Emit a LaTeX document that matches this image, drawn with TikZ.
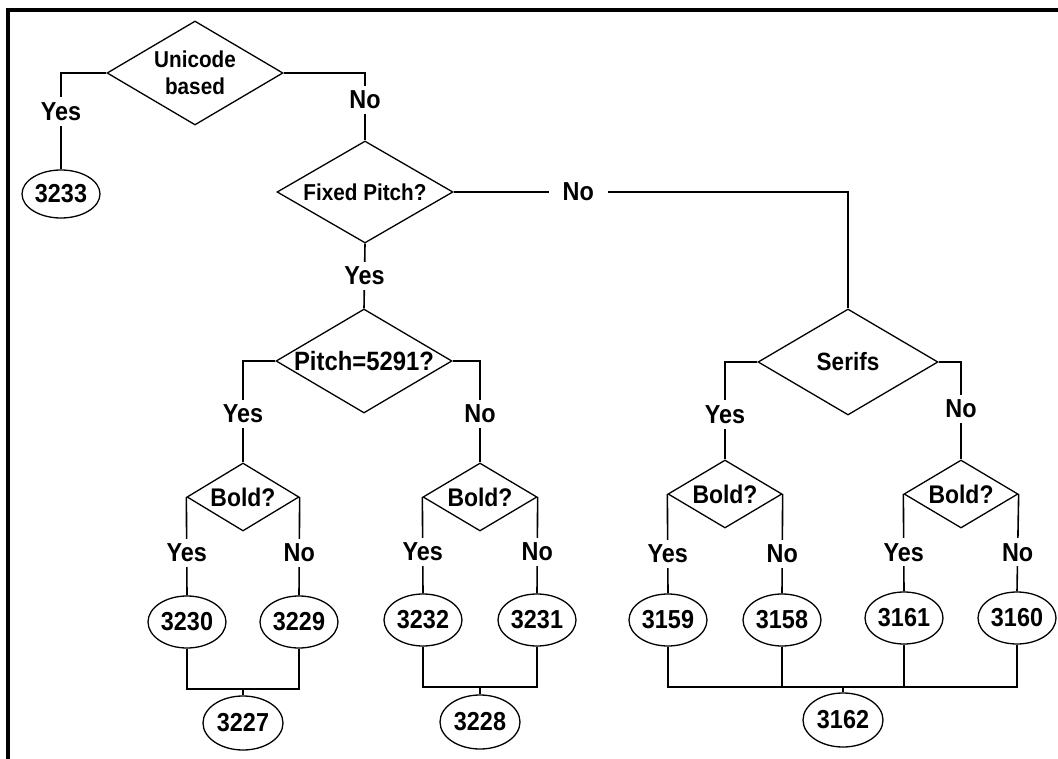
\documentclass[tikz,border=0pt]{standalone}
\usepackage{fontspec}
\setmainfont{Liberation Sans}[FakeStretch=0.9]
\usetikzlibrary{shapes.geometric}
\begin{document}
\begin{tikzpicture}[x=1pt,y=-1pt,
  every node/.style={font=\bfseries\fontsize{26}{28}\selectfont},
  dec/.style={diamond, draw, line width=1.3pt, inner sep=0pt},
  big/.style={dec, minimum width=176pt, minimum height=104pt},
  small/.style={dec, minimum width=114pt, minimum height=68pt},
  leaf/.style={ellipse, draw, line width=1.3pt, inner sep=0pt, minimum width=78pt, minimum height=52pt},
  conn/.style={line width=1.6pt},
  lbl/.style={fill=white, inner xsep=3pt, inner ysep=5pt},
  frame/.style={line width=4pt}
]
\useasboundingbox (0,0) rectangle (1058,759);
\draw[frame] (6,10) -- (1058,10);
\draw[frame] (8,8) -- (8,759);

% decisions
\node[big] (u) at (195,73) {};
\node[align=center, font=\bfseries\fontsize{23}{27}\selectfont] (ut) at (u) {Unicode\\based};
\node[big, minimum height=102pt] (f) at (365,192) {};
\node[font=\bfseries\fontsize{23}{26}\selectfont] (ft) at (f) {Fixed Pitch?};
\node[big] (p) at (364,361) {};
\node[font=\bfseries\fontsize{26.5}{28}\selectfont] (pt) at (p) {Pitch=5291?};
\node[big, minimum width=180pt, minimum height=106pt] (s) at (848,362) {};
\node[font=\bfseries\fontsize{25}{28}\selectfont] (st) at (s) {Serifs};

\node[small, minimum width=112pt] (b1) at (243,497) {};
\node[font=\bfseries\fontsize{25.5}{28}\selectfont] (b1t) at (b1) {Bold?};
\node[small] (b2) at (480,497) {};
\node[font=\bfseries\fontsize{25.5}{28}\selectfont] (b2t) at (b2) {Bold?};
\node[small] (b3) at (725,494) {};
\node[font=\bfseries\fontsize{25.5}{28}\selectfont] (b3t) at (b3) {Bold?};
\node[small] (b4) at (961,494) {};
\node[font=\bfseries\fontsize{25.5}{28}\selectfont] (b4t) at (b4) {Bold?};

% leaves
\node[leaf, minimum height=48pt] (e3233) at (61,194) {3233};
\node[leaf] (e3230) at (187,622) {3230};
\node[leaf] (e3229) at (299,622) {3229};
\node[leaf] (e3232) at (423,620) {3232};
\node[leaf] (e3231) at (537,620) {3231};
\node[leaf] (e3159) at (668,620) {3159};
\node[leaf] (e3158) at (782,620) {3158};
\node[leaf] (e3161) at (904,618) {3161};
\node[leaf] (e3160) at (1017,618) {3160};
\node[leaf, minimum width=80pt, minimum height=54pt] (e3227) at (243,723) {3227};
\node[leaf, minimum width=80pt, minimum height=54pt] (e3228) at (480,722) {3228};
\node[leaf, minimum width=80pt, minimum height=54pt] (e3162) at (843,720) {3162};

% junctions
\coordinate (j1) at (243,689);
\coordinate (j2) at (480,687);
\coordinate (j3) at (843,687);

% connectors
\draw[conn] (u.west) -| node[lbl,pos=0.7] (l1) {Yes} (e3233.north);
\draw[conn] (u.east) -| node[lbl,pos=0.7] (l2) {No} (f.north);
\draw[conn] (f.east) -| node[lbl,pos=0.158,inner xsep=14pt] (l3) {No} (s.north);
\draw[conn] (f.south) -- node[lbl,pos=0.5] (l4) {Yes} (p.north);
\draw[conn] (p.west) -| node[lbl,pos=0.76] (l5) {Yes} (b1.north);
\draw[conn] (p.east) -| node[lbl,pos=0.76] (l6) {No} (b2.north);
\draw[conn] (s.west) -| node[lbl,pos=0.77] (l7) {Yes} (b3.north);
\draw[conn] (s.east) -| node[lbl,pos=0.74] (l8) {No} (b4.north);

\draw[conn] (b1.west) -- node[lbl,pos=0.57] (l9) {Yes} (e3230.north);
\draw[conn] (b1.east) -- node[lbl,pos=0.57] (l10) {No} (e3229.north);
\draw[conn] (b2.west) -- node[lbl,pos=0.57] (l11) {Yes} (e3232.north);
\draw[conn] (b2.east) -- node[lbl,pos=0.57] (l12) {No} (e3231.north);
\draw[conn] (b3.west) -- node[lbl,pos=0.6] (l13) {Yes} (e3159.north);
\draw[conn] (b3.east) -- node[lbl,pos=0.6] (l14) {No} (e3158.north);
\draw[conn] (b4.west) -- node[lbl,pos=0.6] (l15) {Yes} (e3161.north);
\draw[conn] (b4.east) -- node[lbl,pos=0.6] (l16) {No} (e3160.north);

\draw[conn] (e3230.south) |- (j1) -| (e3229.south);
\draw[conn] (j1) -- (e3227.north);
\draw[conn] (e3232.south) |- (j2) -| (e3231.south);
\draw[conn] (j2) -- (e3228.north);
\draw[conn] (e3159.south) |- (j3) -| (e3160.south);
\draw[conn] (e3158.south) -- (e3158.south |- j3);
\draw[conn] (e3161.south) -- (e3161.south |- j3);
\draw[conn] (j3) -- (e3162.north);
\end{tikzpicture}
\end{document}
